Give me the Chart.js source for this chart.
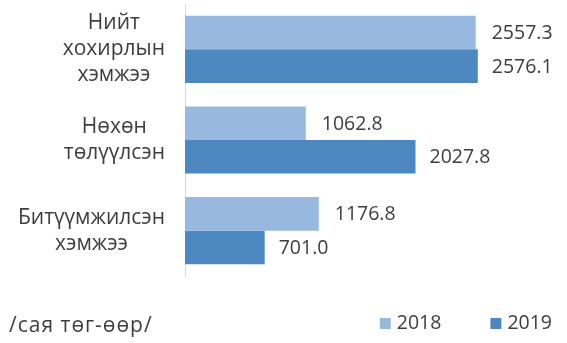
<!DOCTYPE html>
<html>
<head>
<meta charset="utf-8">
<script src="https://cdn.jsdelivr.net/npm/chart.js@4.4.1/dist/chart.umd.min.js"></script>
<style>
  html, body { margin: 0; padding: 0; background: #fff; }
  #wrap { width: 567px; height: 343px; }
</style>
</head>
<body>
<div id="wrap"><canvas id="lossChart"></canvas></div>
<script>
const categories = [
  ['Нийт', 'хохирлын', 'хэмжээ'],
  ['Нөхөн', 'төлүүлсэн'],
  ['Битүүмжилсэн', 'хэмжээ']
];
const years = ['2018', '2019'];
const values2018 = [2557.3, 1062.8, 1176.8];
const values2019 = [2576.1, 2027.8, 701.0];
const unitText = '/сая төг-өөр/';

const FONT = '"Open Sans", "Noto Sans", sans-serif';
const TEXT = '#3d3d3d';

// category labels: each block centred, blocks right-aligned to the axis
const categoryLabels = {
  id: 'categoryLabels',
  afterDraw(chart) {
    const ctx = chart.ctx;
    const y = chart.scales.y;
    ctx.save();
    ctx.font = '21px ' + FONT;
    ctx.fillStyle = TEXT;
    ctx.textAlign = 'center';
    ctx.textBaseline = 'middle';
    const lineH = 26;
    categories.forEach((lines, i) => {
      const widest = Math.max(...lines.map(l => ctx.measureText(l).width));
      const cx = 165 - widest / 2;
      const cy = y.getPixelForValue(i);
      const top = cy - (lines.length - 1) * lineH / 2;
      lines.forEach((l, j) => ctx.fillText(l, cx, top + j * lineH));
    });
    ctx.restore();
  }
};

// value labels to the right of each bar
const valueLabels = {
  id: 'valueLabels',
  afterDatasetsDraw(chart) {
    const ctx = chart.ctx;
    ctx.save();
    ctx.font = '19.5px ' + FONT;
    ctx.fillStyle = TEXT;
    ctx.textAlign = 'left';
    ctx.textBaseline = 'middle';
    chart.data.datasets.forEach((ds, di) => {
      chart.getDatasetMeta(di).data.forEach((bar, i) => {
        const gap = di === 0 ? 16 : 14;
        ctx.fillText(ds.data[i].toFixed(1), bar.x + gap, bar.y + 1);
      });
    });
    ctx.restore();
  }
};

// legend at the bottom right + unit note at the bottom left
const footer = {
  id: 'footer',
  afterDraw(chart) {
    const ctx = chart.ctx;
    ctx.save();
    ctx.fillStyle = TEXT;
    ctx.textBaseline = 'middle';
    ctx.textAlign = 'left';
    ctx.font = '21px ' + FONT;
    ctx.letterSpacing = '1px';
    ctx.fillText(unitText, 9, 326);
    ctx.letterSpacing = '0px';

    ctx.font = '19.5px ' + FONT;
    let right = 552;
    const items = chart.data.datasets.slice().reverse();
    items.forEach(ds => {
      const w = ctx.measureText(ds.label).width;
      const tx = right - w;
      ctx.fillStyle = ds.backgroundColor;
      ctx.fillRect(tx - 17, 318, 11, 11);
      ctx.fillStyle = TEXT;
      ctx.fillText(ds.label, tx, 323);
      right = tx - 17 - 49;
    });
    ctx.restore();
  }
};

new Chart(document.getElementById('lossChart'), {
  type: 'bar',
  data: {
    labels: categories,
    datasets: [
      {
        label: years[0],
        data: values2018,
        backgroundColor: '#97B9E0',
        categoryPercentage: 0.74,
        barPercentage: 1.0
      },
      {
        label: years[1],
        data: values2019,
        backgroundColor: '#4D88C1',
        categoryPercentage: 0.74,
        barPercentage: 1.0
      }
    ]
  },
  options: {
    indexAxis: 'y',
    responsive: true,
    maintainAspectRatio: false,
    animation: false,
    layout: {
      padding: { top: 4, right: 41, bottom: 67, left: 0 }
    },
    plugins: {
      legend: { display: false },
      tooltip: { enabled: false }
    },
    scales: {
      x: {
        display: false,
        min: 0,
        max: 3000
      },
      y: {
        grid: { display: false },
        border: { display: true, color: '#d9d9d9', width: 1 },
        ticks: { display: false },
        afterFit(scale) {
          scale.width = 185;
        }
      }
    }
  },
  plugins: [categoryLabels, valueLabels, footer]
});
</script>
</body>
</html>
